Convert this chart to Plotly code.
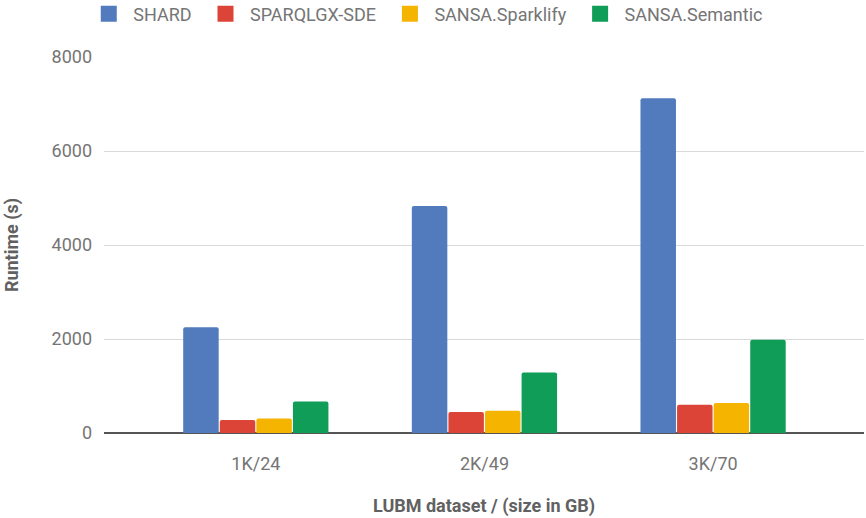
import plotly.graph_objects as go

categories = ["1K/24", "2K/49", "3K/70"]
series_names = ["SHARD", "SPARQLGX-SDE", "SANSA.Sparklify", "SANSA.Semantic"]
shard = [2250, 4830, 7120]
sparqlgx = [277, 447, 602]
sparklify = [311, 474, 638]
semantic = [672, 1289, 1985]
colors = ["#527BBD", "#DB4437", "#F4B400", "#0F9D58"]

fig = go.Figure()
for name, vals, c in zip(series_names, [shard, sparqlgx, sparklify, semantic], colors):
    fig.add_trace(go.Bar(x=categories, y=vals, name=name, showlegend=False,
                         marker=dict(color=c, line=dict(width=0))))
# legend entries with larger square swatches
nb = "\u00a0"
for i, (name, c) in enumerate(zip(series_names, colors)):
    label = nb + name + (nb * 2 if i < len(series_names) - 1 else "")
    fig.add_trace(go.Scatter(x=[None], y=[None], mode="markers", name=label,
                             marker=dict(symbol="square", size=18, color=c), hoverinfo="skip"))

fig.update_layout(
    width=866, height=518,
    margin=dict(l=104, r=2, t=57, b=85, autoexpand=False),
    paper_bgcolor="white", plot_bgcolor="white",
    font=dict(family="Roboto, sans-serif", size=18, color="#757575"),
    barmode="group", bargap=0.36, bargroupgap=0.03, barcornerradius=2,
    showlegend=True,
    legend=dict(orientation="h", x=0.1025, xref="container", xanchor="left", y=0.973, yref="container", yanchor="middle",
                font=dict(size=18, color="#757575"), itemwidth=30, traceorder="normal"),
    xaxis=dict(range=[-0.664, 2.66], showgrid=False, showline=False, ticks="", automargin=False,
               ticklabelstandoff=18, tickfont=dict(size=18, color="#757575"),
               title=dict(text="LUBM dataset / (size in GB)", font=dict(size=18, color="#616161", weight="bold"), standoff=26)),
    yaxis=dict(range=[0, 8000], tickvals=[0, 2000, 4000, 6000, 8000], showgrid=True, gridcolor="#D9D9D9", gridwidth=1,
               zeroline=True, zerolinecolor="#555555", zerolinewidth=2, showline=False, automargin=False,
               ticks="", ticklabelstandoff=11, tickfont=dict(size=18, color="#757575"),
               title=dict(text="Runtime (s)", font=dict(size=18, color="#616161", weight="bold"), standoff=28)),
)
fig.write_html("out.html", config={"displayModeBar": False},
               post_script="document.body.style.margin='0';document.body.style.overflow='hidden';")
